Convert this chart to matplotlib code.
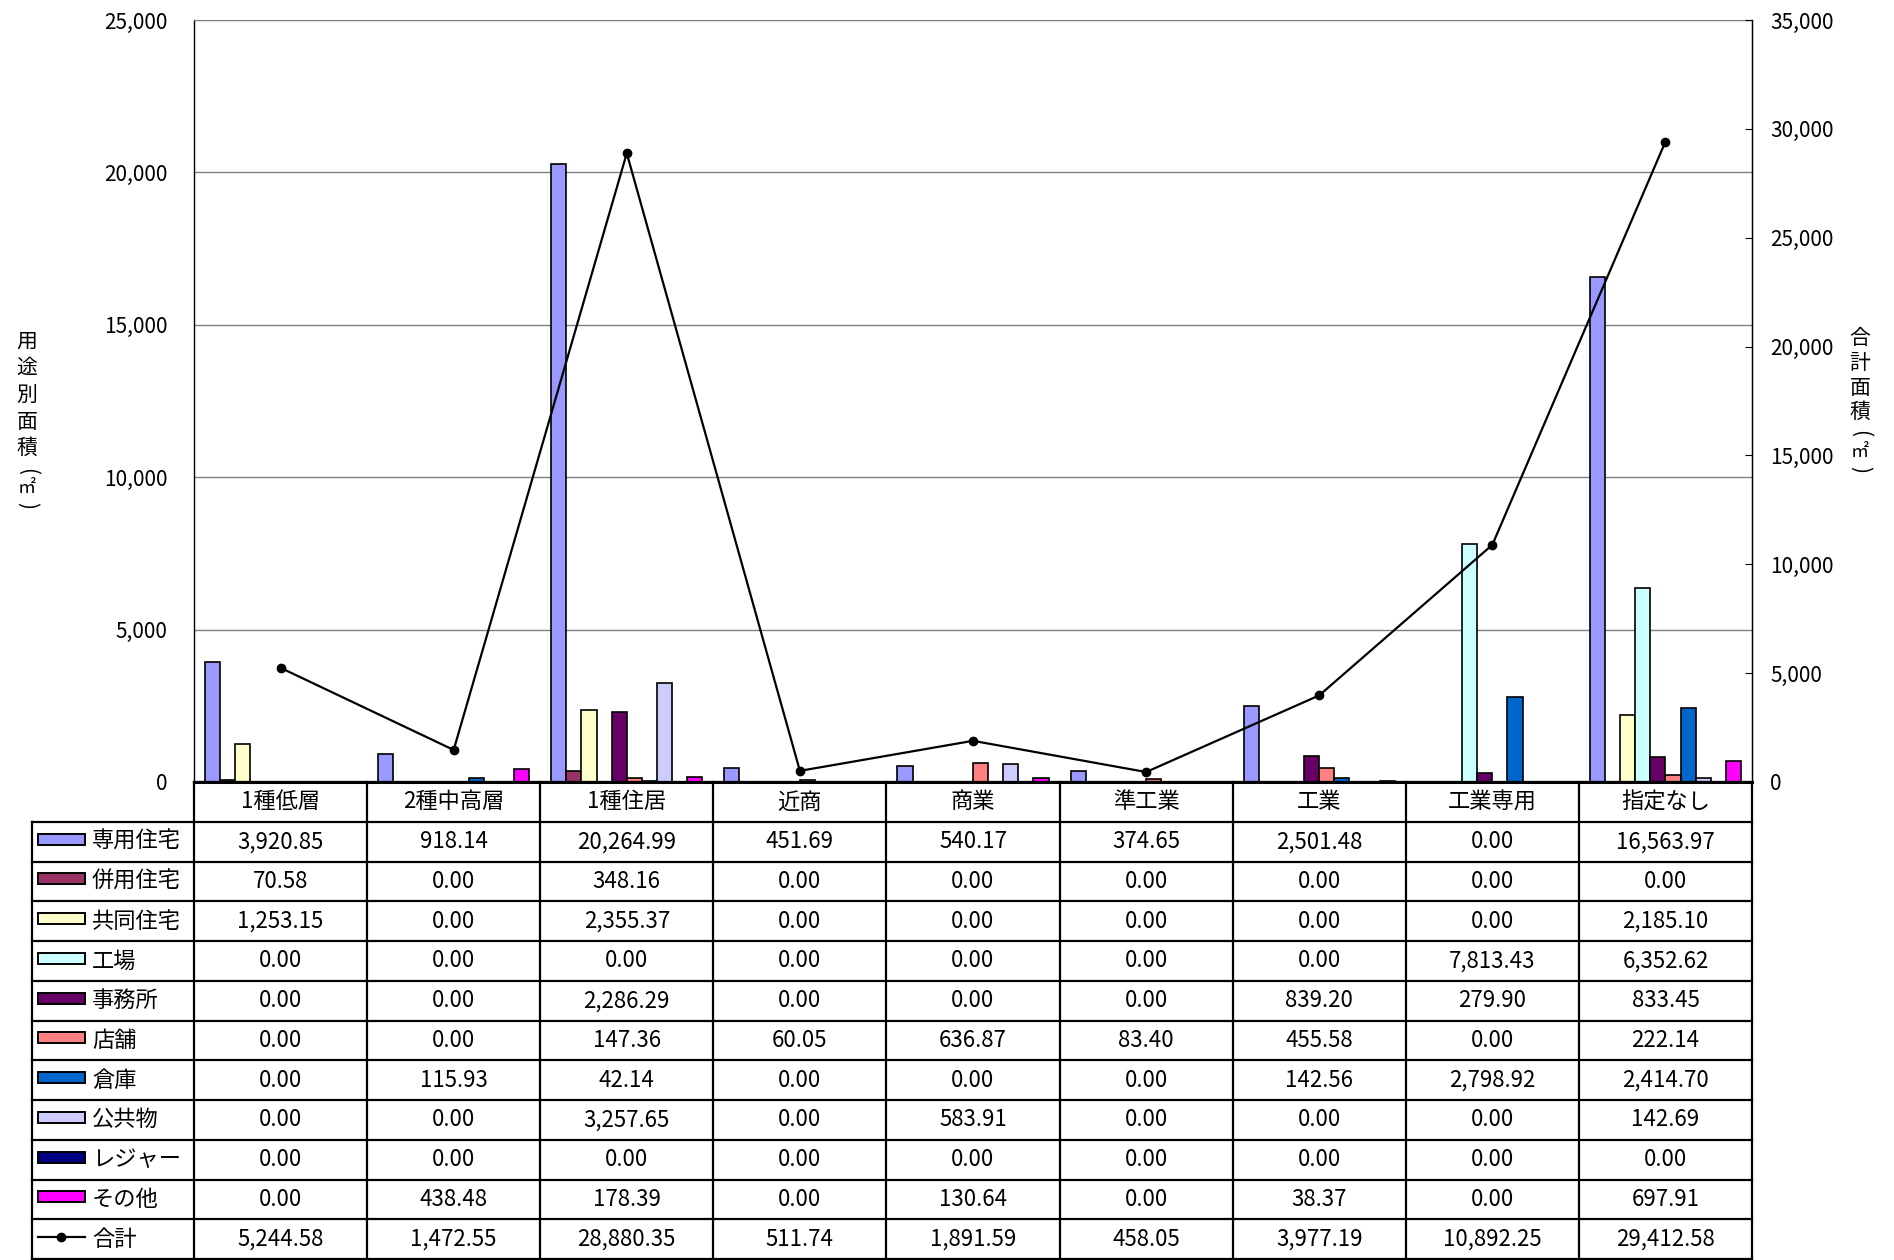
import numpy as np
import matplotlib
matplotlib.use("Agg")
import matplotlib.pyplot as plt
from matplotlib.patches import Rectangle
from matplotlib.lines import Line2D
from matplotlib.ticker import FuncFormatter, MultipleLocator

plt.rcParams['font.family'] = ['Noto Sans CJK JP', 'DejaVu Sans']

zones = ["1種低層", "2種中高層", "1種住居", "近商", "商業", "準工業", "工業", "工業専用", "指定なし"]
uses = ["専用住宅", "併用住宅", "共同住宅", "工場", "事務所", "店舗", "倉庫", "公共物", "レジャー", "その他"]
colors = ["#9999FF", "#993366", "#FFFFCC", "#CCFFFF", "#660066",
          "#FF8080", "#0066CC", "#CCCCFF", "#000080", "#FF00FF"]

senyo   = [3920.85, 918.14, 20264.99, 451.69, 540.17, 374.65, 2501.48, 0.00, 16563.97]
heiyo   = [70.58, 0.00, 348.16, 0.00, 0.00, 0.00, 0.00, 0.00, 0.00]
kyodo   = [1253.15, 0.00, 2355.37, 0.00, 0.00, 0.00, 0.00, 0.00, 2185.10]
kojo    = [0.00, 0.00, 0.00, 0.00, 0.00, 0.00, 0.00, 7813.43, 6352.62]
jimusho = [0.00, 0.00, 2286.29, 0.00, 0.00, 0.00, 839.20, 279.90, 833.45]
tenpo   = [0.00, 0.00, 147.36, 60.05, 636.87, 83.40, 455.58, 0.00, 222.14]
soko    = [0.00, 115.93, 42.14, 0.00, 0.00, 0.00, 142.56, 2798.92, 2414.70]
kokyo   = [0.00, 0.00, 3257.65, 0.00, 583.91, 0.00, 0.00, 0.00, 142.69]
leisure = [0.00, 0.00, 0.00, 0.00, 0.00, 0.00, 0.00, 0.00, 0.00]
sonota  = [0.00, 438.48, 178.39, 0.00, 130.64, 0.00, 38.37, 0.00, 697.91]
total   = [5244.58, 1472.55, 28880.35, 511.74, 1891.59, 458.05, 3977.19, 10892.25, 29412.58]

series = [senyo, heiyo, kyodo, kojo, jimusho, tenpo, soko, kokyo, leisure, sonota]

W, H = 1894, 1260
L, R, T, B = 194, 1752, 20, 782   # plot area in pixels
TB = 1259                          # table bottom

fig = plt.figure(figsize=(W / 100, H / 100), dpi=100)
ax = fig.add_axes([L / W, 1 - B / H, (R - L) / W, (B - T) / H])

x = np.arange(len(zones))
bw = 0.0873
for j, (vals, c) in enumerate(zip(series, colors)):
    ax.bar(x + (j - 4.5) * bw, vals, width=bw, color=c, edgecolor="black",
           linewidth=1.2, zorder=2)

ax.set_xlim(-0.5, len(zones) - 0.5)
ax.set_ylim(0, 25000)
ax.yaxis.set_major_locator(MultipleLocator(5000))
ax.yaxis.set_major_formatter(FuncFormatter(lambda v, p: f"{v:,.0f}"))
ax.grid(axis="y", color="#808080", linewidth=1.0)
ax.set_axisbelow(True)
ax.set_xticks([])
ax.tick_params(axis="y", length=0, pad=19, labelsize=15)
ax.spines["top"].set_color("#808080")
ax.spines["bottom"].set_linewidth(2.2)
ax.spines["left"].set_linewidth(1.0)

ax2 = ax.twinx()
ax2.plot(x, total, color="black", linewidth=1.6, marker="o", markersize=6, zorder=3)
ax2.set_ylim(0, 35000)
ax2.yaxis.set_major_locator(MultipleLocator(5000))
ax2.yaxis.set_major_formatter(FuncFormatter(lambda v, p: f"{v:,.0f}"))
ax2.tick_params(axis="y", direction="in", length=5, pad=13, labelsize=15)
for s in ["top", "left", "bottom"]:
    ax2.spines[s].set_visible(False)
ax2.spines["right"].set_linewidth(1.0)


# vertical axis titles, one character per line; brackets are turned sideways
def vlabel(xpix, chars, ys):
    for ch, yp in zip(chars, ys):
        rot = -90 if ch in "()" else 0
        size = 13 if ch == "㎡" else 15
        fig.text(xpix / W, 1 - yp / H, ch, ha="center", va="center",
                 fontsize=size, rotation=rot, rotation_mode="anchor")


vlabel(27, ["用", "途", "別", "面", "積", "(", "㎡", ")"],
       [342, 368, 395, 422, 448, 471, 488, 505])
vlabel(1860, ["合", "計", "面", "積", "(", "㎡", ")"],
       [338, 363, 388, 412, 434, 452, 470])

# data table under the plot
tax = fig.add_axes([L / W, 1 - TB / H, (R - L) / W, (TB - B) / H])
tax.set_xlim(-0.5, len(zones) - 0.5)
nrows = len(uses) + 2
tax.set_ylim(nrows, 0)
tax.axis("off")

lw_t = 1.6
xl = -0.5 - 162 / 173.1
tax.plot([-0.5, len(zones) - 0.5], [0, 0], color="black", lw=lw_t, clip_on=False)
for r in range(1, nrows + 1):
    tax.plot([xl, len(zones) - 0.5], [r, r], color="black", lw=lw_t, clip_on=False)
tax.plot([xl, xl], [1, nrows], color="black", lw=lw_t, clip_on=False)
for k in range(len(zones) + 1):
    tax.plot([k - 0.5, k - 0.5], [0, nrows], color="black", lw=lw_t, clip_on=False)

fs = 16
for i, z in enumerate(zones):
    tax.text(i, 0.5, z, ha="center", va="center", fontsize=fs)

rows = series + [total]
labels = uses + ["合計"]
kx0 = xl + 6 / 173.1
kw = 47 / 173.1
kh = 11 / 39.75
for r, (lab, vals) in enumerate(zip(labels, rows), start=1):
    yc = r + 0.5
    if r <= len(uses):
        tax.add_patch(Rectangle((kx0, yc - kh / 2 - 0.06), kw, kh, facecolor=colors[r - 1],
                                edgecolor="black", linewidth=1.4, clip_on=False))
    else:
        tax.add_line(Line2D([kx0, kx0 + kw], [yc - 0.06, yc - 0.06], color="black", lw=1.6,
                            clip_on=False))
        tax.add_line(Line2D([kx0 + kw / 2], [yc - 0.06], color="black", marker="o",
                            markersize=6, clip_on=False))
    tax.text(xl + 60 / 173.1, yc, lab, ha="left", va="center", fontsize=fs)
    for i, v in enumerate(vals):
        tax.text(i, yc, f"{v:,.2f}", ha="center", va="center", fontsize=fs)

fig.savefig("out.png", dpi=100)
